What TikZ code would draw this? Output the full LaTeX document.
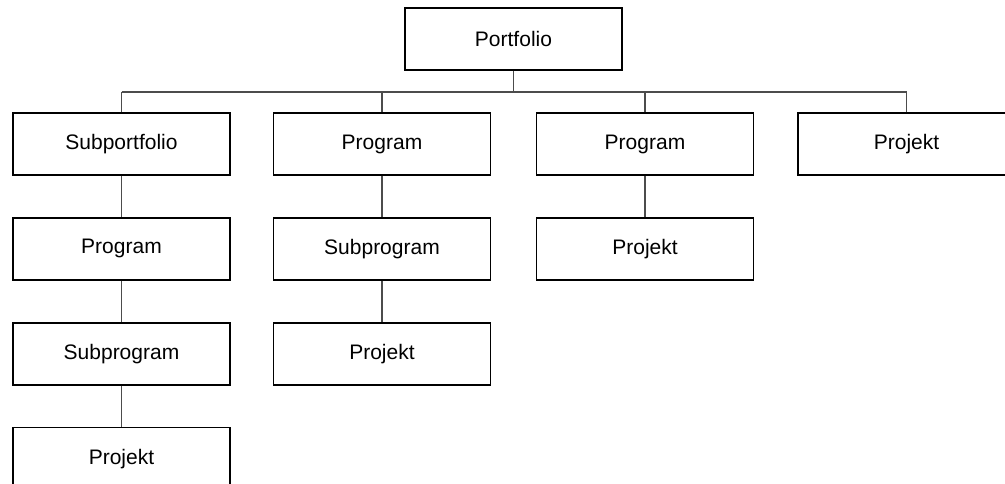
\documentclass[tikz,border=0pt]{standalone}
\usepackage{fontspec}
\setmainfont{Liberation Sans}
\usetikzlibrary{positioning}

\begin{document}
\begin{tikzpicture}[
        node distance=41.5pt and 43pt,
        every node/.style={draw, line width=1.4pt, fill=white, align=center,
          minimum width=217pt, minimum height=62pt, inner sep=0pt,
          font=\fontsize{21}{25}\selectfont},
        link/.style={draw=black!70, line width=1.6pt}
    ]
  \useasboundingbox (0,0) rectangle (1005pt,-484pt);

  % Nodes
  \node (portfolio) at (513.5pt,-39pt) {Portfolio};
  \node (subport) at (121.5pt,-144pt) {Subportfolio};
  \node (progA) at (382pt,-144pt) {Program};
  \node (progB) at (645pt,-144pt) {Program};
  \node (projD) at (906.5pt,-144pt) {Projekt};

  \node (progC) [below=of subport] {Program};
  \node (subprogA) [below=of progC] {Subprogram};
  \node (projA) [below=of subprogA] {Projekt};

  \node (subprogB) [below=of progA] {Subprogram};
  \node (projB) [below=of subprogB] {Projekt};

  \node (projC) [below=of progB] {Projekt};

  % Links
  \coordinate (bus) at (0,-92pt);
  \draw[link] (portfolio.south) -- (portfolio.south |- bus);
  \draw[link] (subport.north |- bus) -- (projD.north |- bus);
  \foreach \n in {subport, progA, progB, projD}
    \draw[link] (\n.north) -- (\n.north |- bus);

  \draw[link] (subport) -- (progC);
  \draw[link] (progC) -- (subprogA);
  \draw[link] (subprogA) -- (projA);
  \draw[link] (progA) -- (subprogB);
  \draw[link] (subprogB) -- (projB);
  \draw[link] (progB) -- (projC);
\end{tikzpicture}
\end{document}
